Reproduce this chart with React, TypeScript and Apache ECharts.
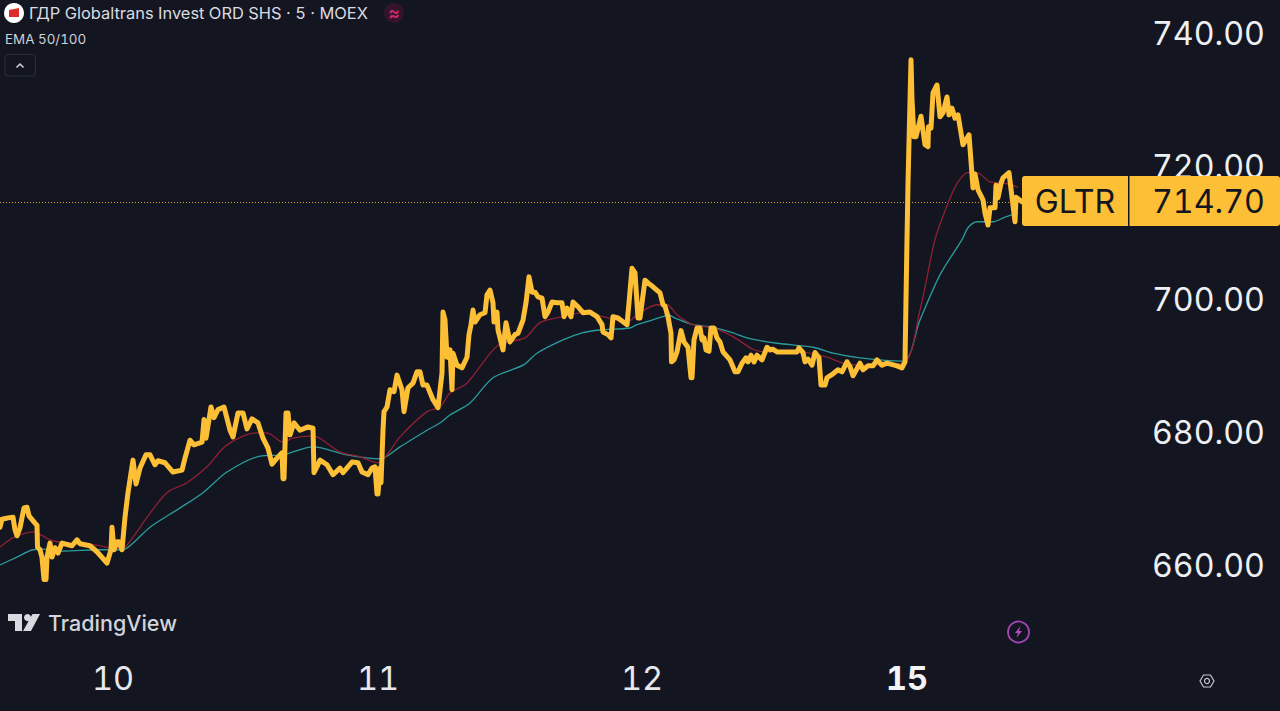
import React, { useEffect, useRef } from "react";
import * as echarts from "echarts";

const FONT = "Inter, 'Noto Sans', sans-serif";
const BG = "#131620";
const GOLD = "#FDBF36";

// Time is measured in chart bars; one trading session is about 265 bars.
const sessionTickBars = [113, 378, 642, 907];
const sessionTickLabels = ["10", "11", "12", "15"];
const priceTicks = [660, 680, 700, 720, 740];
const lastPrice = 714.7;

const closeBars = [
  0, 2, 8, 13, 15, 17, 20, 24, 27, 29, 35, 37, 37.5, 40, 42, 44, 46, 47, 50, 52, 55, 58, 62, 72, 77, 80, 90, 97, 107, 111, 112, 114, 117, 119, 122,
  125, 128, 133, 136, 140, 146, 150, 155, 158, 165, 173, 182, 185, 190, 194, 202, 204, 206, 211, 214, 218, 224, 230, 233, 238, 243, 247, 252, 258, 263,
  268, 272, 277, 282, 283, 284, 286, 288, 290, 294, 300, 308, 313, 314, 317, 320, 327, 333, 340, 343, 352, 358, 362, 368, 372, 375, 377, 378, 380, 381,
  383, 384, 387, 390, 394, 397, 402, 404, 408, 413, 417, 420, 423, 427, 433, 438, 442, 443, 445, 447, 450, 452, 453, 457, 462, 467, 469, 471, 473, 475,
  480, 485, 487, 490, 493, 494, 497, 498, 503, 506, 510, 515, 518, 523, 526, 529, 532, 535, 538, 542, 545, 548, 552, 557, 562, 564, 567, 571, 573, 578,
  583, 590, 597, 602, 603, 608, 611, 613, 618, 627, 629, 632, 635, 638, 640, 645, 648, 653, 660, 663, 665, 668, 671, 671.5, 674, 677, 681, 684, 688, 691,
  692, 694, 697, 700, 702, 704, 706, 709, 711, 714, 717, 720, 723, 730, 735, 738, 742, 746, 748, 751, 754, 757, 762, 767, 770, 773, 777, 787, 797, 799,
  803, 805, 808, 812, 815, 819, 821, 825, 827, 833, 838, 842, 847, 850, 853, 860, 863, 868, 873, 877, 882, 887, 897, 902, 905, 906, 907, 908, 911, 912,
  914, 916, 921, 925, 928, 928.5, 931, 933, 937, 940, 943, 947, 949, 952, 955, 958, 961, 963, 969, 973, 975, 978, 983, 985, 988, 990, 995, 996, 998, 1001,
  1003, 1009, 1015, 1016, 1022,
];
const closePrices = [
  665.7, 666.9, 667.1, 667.2, 665.3, 664.4, 665.6, 668.6, 668.7, 667.4, 666.3, 666.0, 662.7, 662.3, 661.1, 657.8, 657.8, 661.2, 663.3, 661.2, 662.6, 661.8, 663.3, 662.9, 663.8, 663.2, 662.9, 662.0, 660.3, 662.3, 665.7, 662.3, 663.5, 663.5, 662.3,
  667.2, 670.9, 675.8, 672.2, 674.6, 676.6, 676.6, 675.1, 675.7, 675.4, 674.0, 674.3, 676.1, 678.8, 678.1, 678.5, 681.9, 679.1, 683.8, 682.2, 683.4, 683.8, 680.3, 679.3, 682.9, 682.9, 680.5, 682.0, 681.4, 679.1,
  677.6, 675.2, 676.1, 676.9, 673.0, 673.0, 682.9, 682.9, 679.6, 681.4, 680.3, 680.8, 680.6, 673.9, 674.8, 675.8, 675.1, 673.6, 674.6, 673.9, 675.5, 675.4, 674.0, 673.6, 674.6, 674.8, 670.7, 670.7, 674.6, 672.4,
  680.3, 683.1, 683.8, 686.4, 686.1, 688.6, 686.4, 683.1, 686.7, 687.4, 689.1, 689.1, 687.1, 687.1, 684.9, 683.7, 688.9, 698.1, 696.9, 691.3, 692.4, 686.4, 691.9, 690.1, 689.7, 691.3, 694.7, 696.2, 698.4, 696.6,
  697.7, 698.0, 700.7, 701.4, 699.5, 696.6, 698.1, 695.4, 692.4, 696.5, 693.6, 694.7, 694.9, 696.9, 699.5, 703.4, 701.1, 701.1, 700.4, 700.2, 697.4, 698.1, 699.6, 699.5, 699.5, 697.4, 698.7, 697.4, 699.6, 698.9,
  698.0, 698.1, 697.4, 696.2, 695.1, 694.7, 694.2, 697.4, 697.2, 696.2, 699.5, 704.7, 704.0, 697.2, 697.2, 702.9, 702.5, 701.9, 701.0, 699.2, 699.0, 697.4, 694.9, 690.6, 690.9, 692.1, 695.3, 693.6, 692.8, 688.2,
  688.2, 693.9, 695.7, 695.7, 693.9, 694.2, 692.4, 692.2, 695.7, 695.7, 694.2, 693.6, 692.1, 690.9, 689.1, 689.1, 690.4, 691.2, 690.6, 691.6, 690.6, 691.6, 690.9, 692.8, 692.4, 692.5, 692.1, 692.1, 692.1, 692.7,
  692.0, 690.6, 691.0, 690.1, 692.0, 691.2, 687.1, 687.1, 688.2, 688.8, 689.4, 689.1, 690.6, 689.9, 688.5, 690.4, 689.4, 690.0, 690.0, 690.9, 690.1, 690.4, 690.0, 689.7, 690.6, 700.0, 709.0, 717.5, 736.1, 730.1,
  724.5, 724.5, 727.6, 723.3, 723.0, 726.0, 725.8, 731.1, 732.3, 727.5, 728.1, 730.5, 727.8, 728.8, 727.3, 727.8, 725.1, 723.3, 724.8, 716.8, 718.9, 716.5, 715.0, 713.0, 711.2, 713.8, 713.8, 717.2, 715.3, 717.5,
  718.3, 719.1, 711.7, 715.4, 714.7,
];

const ema100Bars = [0, 17, 33, 43, 63, 100, 123, 133, 150, 180, 203, 227, 260, 283, 313, 347, 380, 400, 427, 440, 450, 470, 493, 523, 537, 563, 583, 600, 630, 637, 663, 668, 675, 693, 710, 730, 750, 777, 813, 833, 860, 903, 920, 940, 962, 968, 977, 993, 1005, 1018];
const ema100Prices = [660.0, 661.2, 662.3, 662.4, 662.1, 662.3, 662.3, 663.3, 665.7, 668.6, 670.9, 674.0, 676.4, 676.6, 677.8, 676.6, 676.0, 677.8, 680.3, 681.4, 682.6, 684.4, 688.2, 690.1, 691.9, 693.9, 695.0, 695.4, 695.7, 696.2, 697.4, 697.7, 697.2, 696.2, 695.9, 695.1, 694.1, 693.4, 692.8, 691.9, 691.2, 690.7, 696.9, 703.7, 709.0, 710.8, 711.7, 711.7, 712.4, 713.0];

const ema50Bars = [0, 13, 33, 50, 67, 97, 110, 123, 133, 150, 167, 187, 207, 227, 257, 267, 283, 293, 310, 317, 340, 360, 378, 387, 400, 427, 440, 450, 467, 498, 525, 540, 563, 583, 603, 627, 637, 657, 667, 677, 693, 713, 733, 753, 767, 800, 827, 843, 860, 903, 920, 935, 948, 958, 968, 977, 990, 1005, 1018];
const ema50Prices = [662.7, 664.1, 665.0, 663.8, 663.3, 663.0, 662.6, 662.6, 664.2, 667.8, 670.9, 672.4, 674.8, 678.1, 679.9, 679.9, 678.5, 679.1, 679.4, 679.3, 677.0, 676.3, 675.4, 676.6, 679.3, 683.1, 683.8, 685.9, 687.4, 693.1, 694.2, 696.5, 697.4, 698.0, 697.4, 696.6, 697.7, 699.2, 699.2, 697.7, 696.2, 695.7, 694.4, 692.5, 692.1, 692.1, 691.3, 690.4, 690.1, 690.4, 698.4, 709.0, 714.5, 717.7, 719.1, 719.1, 717.7, 717.5, 716.9];

const zip = (xs: number[], ys: number[]) => xs.map((x, i) => [x, ys[i]]);

export default function App() {
  const ref = useRef<HTMLDivElement>(null);
  useEffect(() => {
    document.body.style.margin = "0";
    document.body.style.background = BG;
    const chart = echarts.init(ref.current!, null, { renderer: "svg" });
    const txt = (x: number, y: number, text: string, fontSize: number, fill: string, extra: any = {}) => ({
      type: "text", x, y, z: 20,
      style: { text, fontSize, fill, fontFamily: FONT, textVerticalAlign: "middle", verticalAlign: "middle", ...extra },
    });
    chart.setOption({
      animation: false,
      backgroundColor: BG,
      grid: { left: 0, top: 0, width: 1265, height: 650 },
      xAxis: {
        type: "value", min: 0, max: 1265,
        splitLine: { show: false }, axisLine: { show: false }, axisTick: { show: false },
        axisLabel: {
          customValues: sessionTickBars,
          margin: 10,
          formatter: (v: number) => {
            const s = sessionTickLabels[sessionTickBars.indexOf(v)] ?? "";
            return s === "15" ? `{b|${s}}` : `{n|${s}}`;
          },
          rich: {
            n: { fontSize: 32.5, fontFamily: FONT, color: "#E6E8EE", lineHeight: 36 },
            b: { fontSize: 32.5, fontFamily: FONT, color: "#F2F3F6", fontWeight: 700, lineHeight: 36 },
          },
        },
      },
      yAxis: {
        type: "value", position: "right", min: 647.2, max: 745.1,
        splitLine: { show: false }, axisLine: { show: false }, axisTick: { show: false },
        axisLabel: {
          customValues: priceTicks, inside: true, margin: 0, align: "right",
          fontSize: 32.2, fontFamily: FONT, color: "#EDEFF3",
          formatter: (v: number) => v.toFixed(2),
        },
      },
      series: [
        { type: "line", name: "EMA 100", data: zip(ema100Bars, ema100Prices), showSymbol: false, smooth: 0.3, z: 3, lineStyle: { color: "#2B9C9C", width: 1.3 } },
        { type: "line", name: "EMA 50", data: zip(ema50Bars, ema50Prices), showSymbol: false, smooth: 0.3, z: 3, lineStyle: { color: "#8F2033", width: 1.3 } },
        {
          type: "line", name: "GLTR", data: zip(closeBars, closePrices), showSymbol: false, z: 5,
          lineStyle: { color: GOLD, width: 5, join: "round", cap: "round" },
          markLine: {
            silent: true, symbol: "none", label: { show: false }, z: 2,
            lineStyle: { color: GOLD, width: 1, type: [1, 2], opacity: 0.85 },
            data: [[{ coord: [0, lastPrice] }, { coord: [1024, lastPrice] }]],
          },
        },
      ],
      graphic: [
        { type: "circle", z: 20, shape: { cx: 14, cy: 13, r: 10 }, style: { fill: "#FFFFFF" } },
        { type: "polygon", z: 21, shape: { points: [[9, 10], [19, 8], [19, 17], [9, 17]] }, style: { fill: "#E02B2B" } },
        txt(29, 13, "ГДР Globaltrans Invest ORD SHS · 5 · MOEX", 16.45, "#D9DBE1"),
        { type: "circle", z: 20, shape: { cx: 394, cy: 13, r: 10 }, style: { fill: "#33142C" } },
        txt(394, 13, "≈", 17, "#D0286E", { textAlign: "center", fontWeight: 700 }),
        txt(5, 39, "EMA 50/100", 13.4, "#CDD0D8"),
        { type: "rect", z: 20, shape: { x: 5, y: 54.5, width: 30.5, height: 21.5, r: 3 }, style: { fill: "transparent", stroke: "#2B2F3A", lineWidth: 1 } },
        { type: "polyline", z: 20, shape: { points: [[16.5, 67.5], [20, 64], [23.5, 67.5]] }, style: { fill: "none", stroke: "#D5D7DD", lineWidth: 1.5 } },

        { type: "polygon", z: 20, shape: { points: [[8, 614], [22, 614], [22, 631], [15, 631], [15, 621], [8, 621]] }, style: { fill: "#D8DAE0" } },
        { type: "circle", z: 20, shape: { cx: 27.5, cy: 617.5, r: 3.5 }, style: { fill: "#D8DAE0" } },
        { type: "polygon", z: 20, shape: { points: [[32.5, 614], [40, 614], [31, 631], [23, 631]] }, style: { fill: "#D8DAE0" } },
        txt(48, 623, "TradingView", 21.5, "#D1D4DC", { fontWeight: 500 }),

        { type: "circle", z: 20, shape: { cx: 1018.5, cy: 632, r: 10.5 }, style: { fill: "none", stroke: "#A646B8", lineWidth: 1.8 } },
        { type: "polygon", z: 20, shape: { points: [[1020.5, 626], [1015, 633], [1018, 633], [1016.5, 638], [1022, 631], [1019, 631]] }, style: { fill: "#B24CC4" } },

        { type: "polygon", z: 20, shape: { points: [[1200, 681], [1203.5, 675], [1210.5, 675], [1214, 681], [1210.5, 687], [1203.5, 687]] }, style: { fill: "none", stroke: "#C4C7CE", lineWidth: 1.2 } },
        { type: "circle", z: 20, shape: { cx: 1207, cy: 681, r: 2.5 }, style: { fill: "none", stroke: "#C4C7CE", lineWidth: 1.2 } },

        { type: "rect", z: 20, shape: { x: 1022, y: 176, width: 106, height: 50, r: [3, 0, 0, 3] }, style: { fill: GOLD } },
        { type: "rect", z: 20, shape: { x: 1129.5, y: 176, width: 150.5, height: 50, r: [0, 3, 3, 0] }, style: { fill: GOLD } },
        txt(1075, 201.5, "GLTR", 32.2, "#14161F", { textAlign: "center" }),
        txt(1265, 201.5, "714.70", 32.2, "#14161F", { textAlign: "right" }),
      ],
    });
    return () => chart.dispose();
  }, []);
  return <div ref={ref} style={{ width: 1280, height: 711, position: "absolute", left: 0, top: 0, fontVariantNumeric: "tabular-nums" }} />;
}
